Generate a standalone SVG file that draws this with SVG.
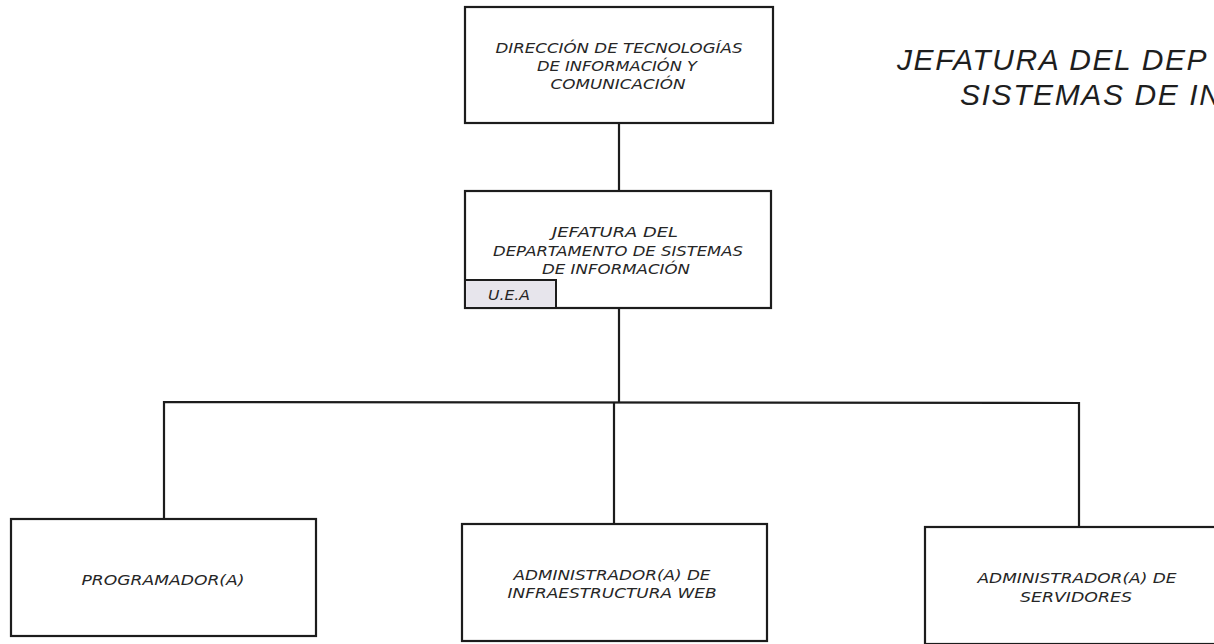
<svg xmlns="http://www.w3.org/2000/svg" width="1214" height="644" viewBox="0 0 1214 644">
<style>
.box{fill:#fff;stroke:#1c1c1c;stroke-width:2.2}
.tag{fill:#e7e5ec;stroke:#1c1c1c;stroke-width:2}
.t{font-family:"DejaVu Sans","Liberation Sans",sans-serif;font-style:italic;font-size:13.5px;fill:#262626;text-anchor:middle}
.ts{font-family:"DejaVu Sans","Liberation Sans",sans-serif;font-style:italic;font-size:13.5px;fill:#262626}
.title{font-family:"Liberation Sans",Arial,sans-serif;font-style:italic;font-size:30px;fill:#1e1e1e;letter-spacing:1.6px}
.c{fill:none;stroke:#1c1c1c;stroke-width:2.2}
</style>
<rect width="1214" height="644" fill="#fff"/>
<g id="connectors">
<line class="c" x1="619" y1="123" x2="619" y2="191"/>
<line class="c" x1="619" y1="308" x2="619" y2="403"/>
<polyline class="c" points="164,519 164,402 1079,403 1079,527"/>
<line class="c" x1="614" y1="403" x2="614" y2="524"/>
</g>
<g id="title">
<text class="title" x="897" y="70">JEFATURA DEL DEP</text>
<text class="title" x="960" y="105">SISTEMAS DE IN</text>
</g>
<g id="direccion">
<rect class="box" x="465" y="7" width="308" height="116"/>
<text class="t" x="619" y="53" textLength="247" lengthAdjust="spacingAndGlyphs">DIRECCIÓN DE TECNOLOGÍAS</text>
<text class="t" x="617" y="71" textLength="160" lengthAdjust="spacingAndGlyphs">DE INFORMACIÓN Y</text>
<text class="t" x="618" y="89" textLength="135" lengthAdjust="spacingAndGlyphs">COMUNICACIÓN</text>
</g>
<g id="jefatura">
<rect class="box" x="465" y="191" width="306" height="117"/>
<text class="t" x="615" y="237" textLength="126" lengthAdjust="spacingAndGlyphs">JEFATURA DEL</text>
<text class="t" x="618" y="256" textLength="250" lengthAdjust="spacingAndGlyphs">DEPARTAMENTO DE SISTEMAS</text>
<text class="t" x="616" y="274" textLength="148" lengthAdjust="spacingAndGlyphs">DE INFORMACIÓN</text>
<rect class="tag" x="465" y="280" width="91" height="28"/>
<text class="ts" x="488" y="300" textLength="42" lengthAdjust="spacingAndGlyphs">U.E.A</text>
</g>
<g id="programador">
<rect class="box" x="11" y="519" width="305" height="117"/>
<text class="t" x="163" y="585" textLength="163" lengthAdjust="spacingAndGlyphs">PROGRAMADOR(A)</text>
</g>
<g id="admin-web">
<rect class="box" x="462" y="524" width="305" height="117"/>
<text class="t" x="612" y="580" textLength="197" lengthAdjust="spacingAndGlyphs">ADMINISTRADOR(A) DE</text>
<text class="t" x="612" y="598" textLength="209" lengthAdjust="spacingAndGlyphs">INFRAESTRUCTURA WEB</text>
</g>
<g id="admin-servidores">
<rect class="box" x="925" y="527" width="305" height="117"/>
<text class="t" x="1077" y="583" textLength="199" lengthAdjust="spacingAndGlyphs">ADMINISTRADOR(A) DE</text>
<text class="t" x="1076" y="602" textLength="112" lengthAdjust="spacingAndGlyphs">SERVIDORES</text>
</g>
</svg>
